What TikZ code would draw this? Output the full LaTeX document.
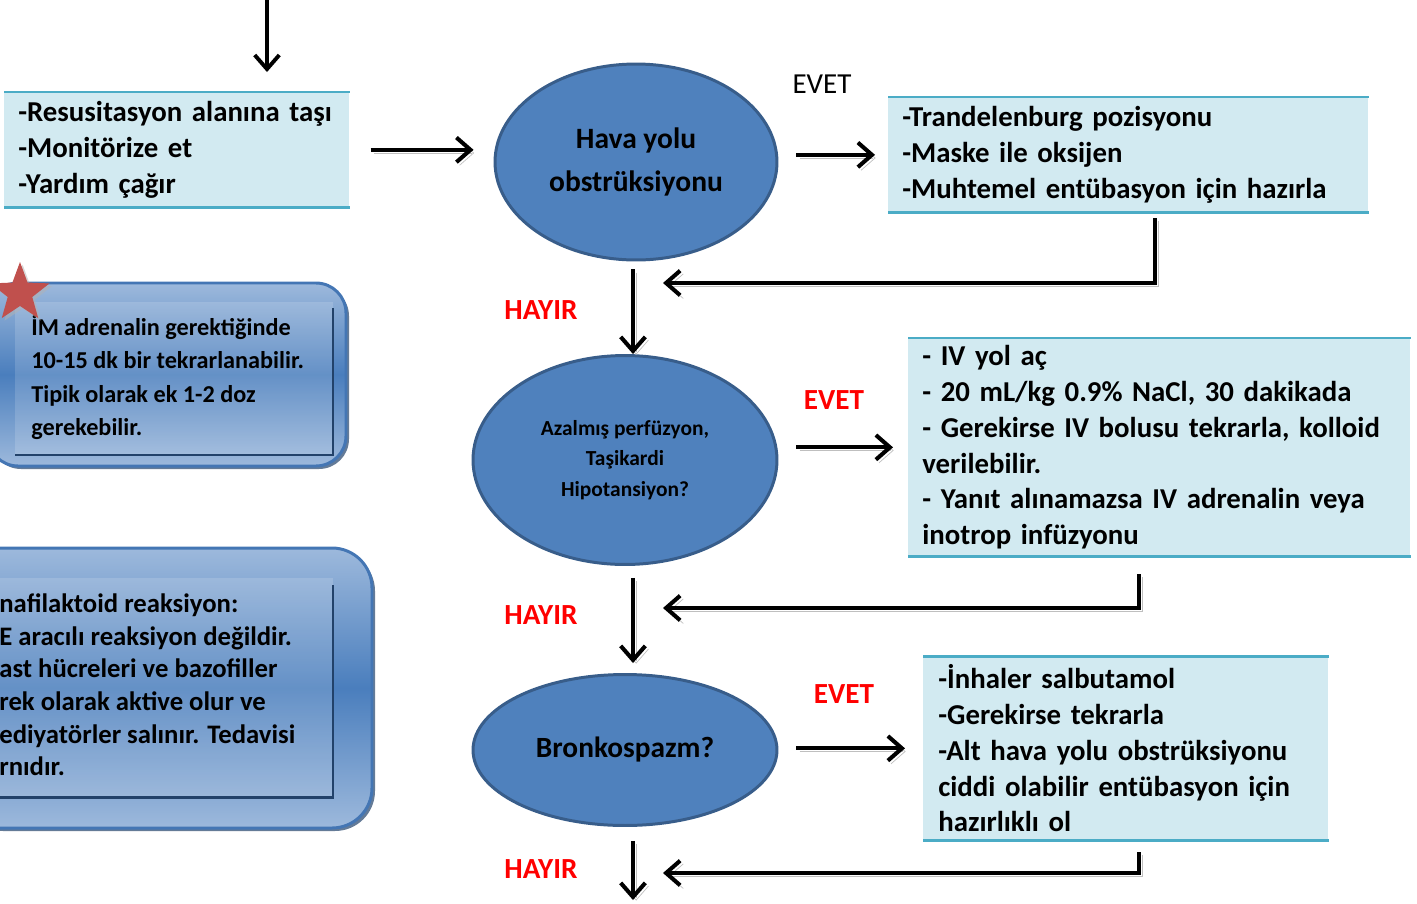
\documentclass[tikz,border=0pt]{standalone}
\usepackage{fontspec}
\setmainfont{Carlito}
\usetikzlibrary{arrows.meta,shapes.geometric,shadows}

\definecolor{boxfill}{HTML}{D2EAF1}
\definecolor{boxline}{HTML}{4BACC6}
\definecolor{ellfill}{HTML}{4F81BD}
\definecolor{ellline}{HTML}{385D8A}
\definecolor{notelight}{HTML}{9DB9DC}
\definecolor{notemid}{HTML}{4A7EBD}
\definecolor{noteline}{HTML}{4476B4}
\definecolor{notedark}{HTML}{22426A}
\definecolor{starred}{HTML}{C0504D}

\tikzset{
  arr/.style={line width=2.3pt,-{Straight Barb[length=8pt,width=14pt]},
    preaction={draw=gray!50,transform canvas={shift={(1.8pt,-1.8pt)}}}},
  actbox/.style={rectangle,fill=boxfill,inner xsep=0.28cm,inner ysep=0pt,
    align=left,anchor=north west,font=\fontsize{16.4}{20.4}\selectfont\bfseries},
  boxedge/.style={draw=boxline,line width=1.7pt},
  decision/.style={ellipse,fill=ellfill,draw=ellline,line width=1.7pt,
    inner sep=0pt,align=center},
  notebox/.style={draw=noteline,line width=1.7pt,top color=notelight,
    bottom color=notelight,middle color=notemid},
  noteshade/.style={draw=notedark,line width=1.7pt},
  notetext/.style={anchor=west,align=left,inner sep=0pt,
    font=\fontsize{13.8}{19.1}\selectfont\bfseries},
  yeslabel/.style={text=red,font=\fontsize{16.6}{18}\selectfont\bfseries},
}

\begin{document}
\begin{tikzpicture}[x=0.02cm,y=-0.02cm]
\useasboundingbox (0,0) rectangle (1417,903);
\clip (0,0) rectangle (1417,903);

% left notes
\fill[notedark!70,rounded corners=0.6cm] (-9,286) rectangle (349,469);
\draw[notebox,rounded corners=0.6cm] (-12,283) rectangle (346,466);
\fill[white,opacity=0.15] (15,302) rectangle (333,455);
\draw[noteshade] (333,308) -- (333,455) -- (15,455);
\node[notetext] (imnote) at (31,377.5) {İM adrenalin gerektiğinde\\10-15 dk bir tekrarlanabilir.\\Tipik olarak ek 1-2 doz\\gerekebilir.};
\node[star,star points=5,star point ratio=2.4,fill=starred,minimum size=1.24cm,inner sep=0pt,
  drop shadow={shadow xshift=1.5pt,shadow yshift=-1.5pt,fill=gray!60}] (mark) at (20,293) {};

\fill[notedark!70,rounded corners=0.8cm] (-37,551) rectangle (375,831);
\draw[notebox,rounded corners=0.8cm] (-40,548) rectangle (372,828);
\fill[white,opacity=0.15] (-10,578) rectangle (333,797);
\draw[noteshade] (333,585) -- (333,797) -- (-10,797);
\node[notetext,font=\fontsize{15.2}{18.6}\selectfont\bfseries] (anafnote) at (-1,685) {nafilaktoid reaksiyon:\\E aracılı reaksiyon değildir.\\ast hücreleri ve bazofiller\\rek olarak aktive olur ve\\ediyatörler salınır. Tedavisi\\rnıdır.};

% action boxes
\node[actbox,minimum width=6.9cm,minimum height=2.3cm,text width=6.34cm] (resus) at (4,92)
  {-Resusitasyon alanına taşı\\-Monitörize et\\-Yardım çağır};
\node[actbox,minimum width=9.6cm,minimum height=2.3cm,text width=9.04cm] (trend) at (888,97)
  {-Trandelenburg pozisyonu\\-Maske ile oksijen\\-Muhtemel entübasyon için hazırla};
\node[actbox,minimum width=10.04cm,minimum height=4.36cm,text width=9.48cm] (fluid) at (908,338)
  {- IV yol aç\\- 20 mL/kg 0.9\% NaCl, 30 dakikada\\- Gerekirse IV bolusu tekrarla, kolloid\\verilebilir.\\- Yanıt alınamazsa IV adrenalin veya\\inotrop infüzyonu};
\node[actbox,minimum width=8.1cm,minimum height=3.68cm,text width=7.5cm] (inhal) at (923,656)
  {-İnhaler salbutamol\\-Gerekirse tekrarla\\-Alt hava yolu obstrüksiyonu\\ciddi olabilir entübasyon için\\hazırlıklı ol};
\foreach \b in {resus,trend,fluid,inhal}{
  \draw[boxedge] (\b.north west) -- (\b.north east);
  \draw[boxedge] (\b.south west) -- (\b.south east);
}

% questions
\node[decision,minimum width=5.64cm,minimum height=3.92cm,
  font=\fontsize{16.8}{24}\selectfont\bfseries] (airway) at (636,162) {Hava yolu\\obstrüksiyonu};
\node[decision,minimum width=6.08cm,minimum height=4.18cm,
  font=\fontsize{12.2}{17.3}\selectfont\bfseries] (perf) at (625,460) {Azalmış perfüzyon,\\Taşikardi\\Hipotansiyon?};
\node[decision,minimum width=6.08cm,minimum height=3.02cm,
  font=\fontsize{16.7}{18}\selectfont\bfseries] (bronc) at (625,750) {Bronkospazm?};

% labels
\node[font=\fontsize{16.5}{18}\selectfont] (evet1) at (822,84) {EVET};
\node[yeslabel] (evet2) at (834,400) {EVET};
\node[yeslabel] (evet3) at (844,694) {EVET};
\node[yeslabel] (hayir1) at (541,310) {HAYIR};
\node[yeslabel] (hayir2) at (541,615) {HAYIR};
\node[yeslabel] (hayir3) at (541,869) {HAYIR};

% connectors
\coordinate (entry) at (267,0);
\coordinate (spine) at (633,0);
\coordinate (exit) at (633,900);
\draw[line width=2.2pt,-{Straight Barb[length=8pt,width=14pt]},shorten >=0.4cm] (entry) -- (entry |- resus.north);
\draw[arr,shorten <=0.42cm,shorten >=0.4cm] (resus.east) -- (resus.east -| airway.west);
\draw[arr,shorten <=0.36cm,shorten >=0.26cm] (airway.east |- trend.west) -- (trend.west);
\draw[arr,shorten <=0.36cm,shorten >=0.3cm] (perf.east |- fluid.west) -- (fluid.west);
\draw[arr,shorten <=0.36cm,shorten >=0.36cm] (bronc.east |- inhal.west) -- (inhal.west);

\draw[arr,shorten <=0.16cm] (airway.south -| spine) -- (perf.north -| spine);
\draw[arr,shorten <=0.24cm,shorten >=0.2cm] (perf.south -| spine) -- (bronc.north -| spine);
\draw[arr,shorten <=0.28cm] (bronc.south -| spine) -- (exit);

\coordinate (back1) at (1155,218);
\coordinate (join1) at (663,283);
\coordinate (back2) at (1139,574);
\coordinate (join2) at (663,608);
\coordinate (back3) at (1139,852);
\coordinate (join3) at (663,873);
\draw[arr] (back1) |- (join1);
\draw[arr] (back2) |- (join2);
\draw[arr] (back3) |- (join3);
\end{tikzpicture}
\end{document}
